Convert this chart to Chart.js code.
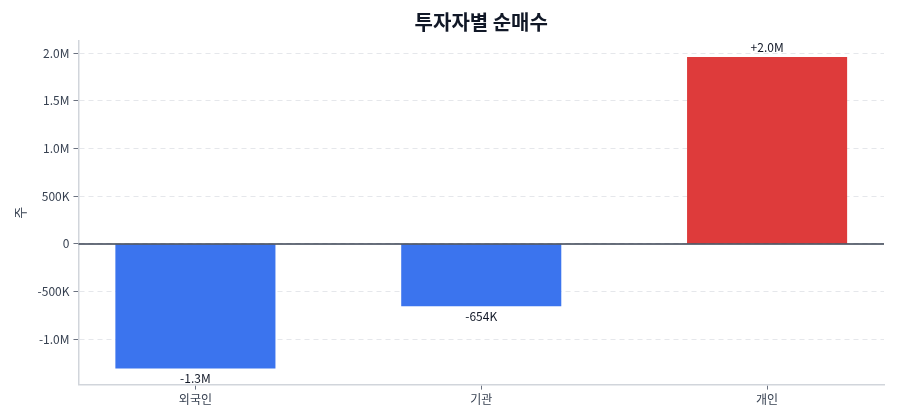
<!DOCTYPE html>
<html>
<head>
<meta charset="utf-8">
<script src="https://cdn.jsdelivr.net/npm/chart.js@4"></script>
<style>
  html, body { margin: 0; padding: 0; background: #fff; }
  #wrap { width: 900px; height: 420px; }
</style>
</head>
<body>
<div id="wrap"><canvas id="chart"></canvas></div>
<script>
const chartTitle = '투자자별 순매수';
const categories = ['외국인', '기관', '개인'];
const netBuy = [-1305000, -654000, 1958000];
const barColors = ['#3b74ee', '#3b74ee', '#de3b3b'];
const yTicks = [-1000000, -500000, 0, 500000, 1000000, 1500000, 2000000];
const yMin = -1474000;
const yMax = 2126000;
const xMargin = 0.409;

function fmt(v) {
    const a = Math.abs(v);
    if (a >= 1e6) return (v / 1e6).toFixed(1) + 'M';
    if (a >= 1e3) return (v / 1e3).toFixed(0) + 'K';
    return String(v);
}

const FONT = "'Noto Sans CJK KR', 'Noto Sans', sans-serif";

// zero line, value labels and a title centred over the plot area
const extras = {
    id: 'extras',
    afterDatasetsDraw(chart) {
        const ctx = chart.ctx;
        const y = chart.scales.y;
        const area = chart.chartArea;
        const y0 = y.getPixelForValue(0);
        ctx.save();
        ctx.strokeStyle = '#374151';
        ctx.lineWidth = 1.5;
        ctx.beginPath();
        ctx.moveTo(area.left, y0);
        ctx.lineTo(area.right, y0);
        ctx.stroke();

        ctx.font = '12px ' + FONT;
        ctx.fillStyle = '#111827';
        ctx.textAlign = 'center';
        chart.getDatasetMeta(0).data.forEach((bar, i) => {
            const v = netBuy[i];
            const txt = (v > 0 ? '+' : '') + fmt(v);
            if (v >= 0) {
                ctx.textBaseline = 'bottom';
                ctx.fillText(txt, bar.x, bar.y - 4);
            } else {
                ctx.textBaseline = 'top';
                ctx.fillText(txt, bar.x, bar.y + 4);
            }
        });

        ctx.font = 'bold 20px ' + FONT;
        ctx.fillStyle = '#111827';
        ctx.textBaseline = 'middle';
        ctx.fillText(chartTitle, (area.left + area.right) / 2, 22);
        ctx.restore();
    }
};

new Chart(document.getElementById('chart'), {
    type: 'bar',
    data: {
        datasets: [{
            data: netBuy.map((v, i) => ({ x: i, y: v })),
            backgroundColor: barColors,
            borderColor: barColors,
            borderWidth: 0,
            barPercentage: 0.56,
            categoryPercentage: 1.0
        }]
    },
    options: {
        responsive: true,
        maintainAspectRatio: false,
        animation: false,
        layout: { padding: { left: 8, right: 16, bottom: 10, top: 41 } },
        plugins: {
            legend: { display: false },
            tooltip: { enabled: false },
            title: { display: false }
        },
        scales: {
            x: {
                type: 'linear',
                offset: false,
                min: -xMargin,
                max: categories.length - 1 + xMargin,
                afterBuildTicks(scale) {
                    scale.ticks = categories.map((c, i) => ({ value: i }));
                },
                grid: {
                    display: true,
                    offset: false,
                    drawOnChartArea: false,
                    drawTicks: true,
                    tickLength: 5,
                    tickColor: '#6b7280'
                },
                border: { color: '#d1d5db', width: 1.5 },
                ticks: {
                    color: '#374151',
                    font: { family: FONT, size: 12 },
                    padding: 3,
                    callback: v => categories[v]
                }
            },
            y: {
                min: yMin,
                max: yMax,
                afterBuildTicks(scale) {
                    scale.ticks = yTicks.map(v => ({ value: v }));
                },
                ticks: {
                    color: '#374151',
                    font: { family: FONT, size: 12 },
                    padding: 4,
                    callback: v => fmt(v)
                },
                grid: {
                    color: '#e5e7eb',
                    lineWidth: 1,
                    tickColor: '#6b7280',
                    tickLength: 5
                },
                border: { color: '#d1d5db', width: 1.5, dash: [5, 4] },
                title: {
                    display: true,
                    text: '주',
                    color: '#374151',
                    font: { family: FONT, size: 13 },
                    padding: { bottom: 6 }
                }
            }
        }
    },
    plugins: [extras]
});
</script>
</body>
</html>
